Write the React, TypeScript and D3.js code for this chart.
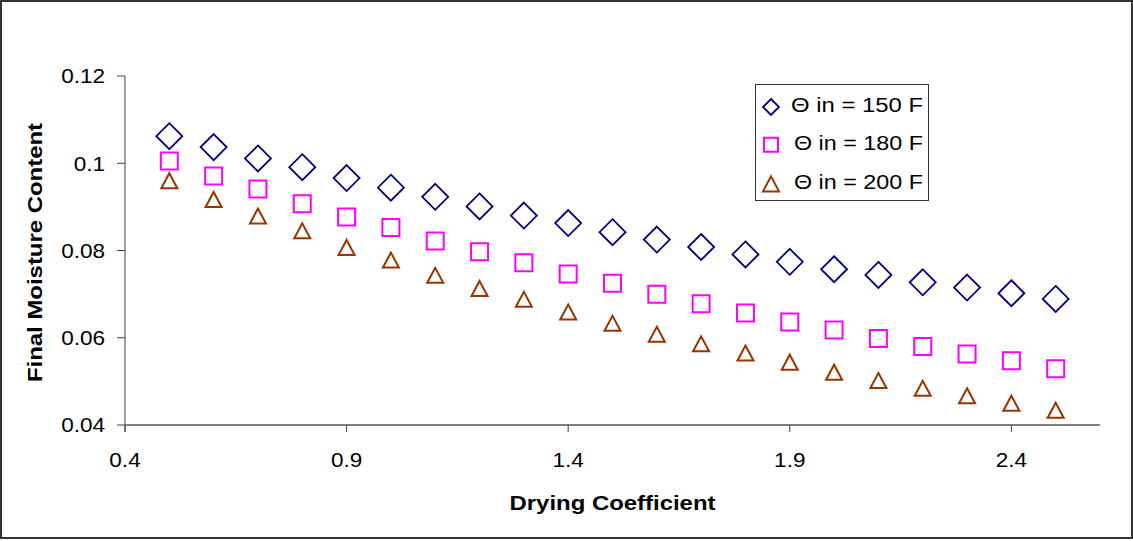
import React from "react";
import * as d3 from "d3";

const dryingCoeff = [0.5, 0.6, 0.7, 0.8, 0.9, 1.0, 1.1, 1.2, 1.3, 1.4, 1.5, 1.6, 1.7, 1.8, 1.9, 2.0, 2.1, 2.2, 2.3, 2.4, 2.5];
const moisture150 = [0.1062, 0.1037, 0.1011, 0.0991, 0.0966, 0.0944, 0.0923, 0.0901, 0.088, 0.0863, 0.0842, 0.0825, 0.0808, 0.0791, 0.0774, 0.0757, 0.0744, 0.0727, 0.0715, 0.0702, 0.0689];
const moisture180 = [0.1005, 0.0971, 0.0941, 0.0907, 0.0877, 0.0853, 0.0822, 0.0797, 0.0772, 0.0746, 0.0725, 0.07, 0.0678, 0.0657, 0.0636, 0.0618, 0.0598, 0.058, 0.0563, 0.0547, 0.0529];
const moisture200 = [0.096, 0.0917, 0.0879, 0.0845, 0.0807, 0.0778, 0.0743, 0.0713, 0.0688, 0.0659, 0.0633, 0.0608, 0.0586, 0.0565, 0.0544, 0.0521, 0.0502, 0.0484, 0.0467, 0.045, 0.0434];
const seriesNames = ["\u0398 in = 150 F", "\u0398 in = 180 F", "\u0398 in = 200 F"];
const xTicks = [0.4, 0.9, 1.4, 1.9, 2.4];
const yTicks = [0.04, 0.06, 0.08, 0.1, 0.12];
const xTickLabels = ["0.4", "0.9", "1.4", "1.9", "2.4"];
const yTickLabels = ["0.04", "0.06", "0.08", "0.1", "0.12"];

const W = 1133;
const H = 541;
const FONT = "'Liberation Sans', Arial, Helvetica, sans-serif";

const diamond = (h: number) => `M0,${-h}L${h},0L0,${h}L${-h},0Z`;
const square = (h: number) => `M${-h},${-h}H${h}V${h}H${-h}Z`;
const triangle = (w: number, h: number) => `M0,${-h / 2}L${w / 2},${h / 2}L${-w / 2},${h / 2}Z`;

export default function App() {
  const x = d3.scaleLinear().domain([0.4, 2.6]).range([125, 1100]);
  const y = d3.scaleLinear().domain([0.04, 0.12]).range([425, 76]);

  const series = [
    { name: seriesNames[0], values: moisture150, color: "#000080", path: diamond(13), legendPath: diamond(8), sw: 1.8, legendDy: 2.5 },
    { name: seriesNames[1], values: moisture180, color: "#FF00FF", path: square(8.5), legendPath: square(7), sw: 2, legendDy: 1.5 },
    { name: seriesNames[2], values: moisture200, color: "#993300", path: triangle(16, 15), legendPath: triangle(16, 15), sw: 2, legendDy: 2 },
  ];

  const x0 = x.range()[0];
  const x1 = x.range()[1];
  const yTop = y.range()[1];
  const yBot = y.range()[0];

  return (
    <svg width={W} height={H} style={{ position: "absolute", left: 0, top: 0, background: "#fff" }} fontFamily={FONT}>
      <rect x={0} y={0} width={W} height={H} fill="#fff" />
      <rect x={1} y={1} width={1131} height={537} fill="none" stroke="#333" strokeWidth={2} />

      {/* y axis */}
      <line x1={x0} x2={x0} y1={yTop} y2={yBot + 7} stroke="#404040" strokeWidth={1} />
      {yTicks.map((t, i) => (
        <g key={"yt" + i}>
          <line x1={x0 - 8} x2={x0} y1={y(t)} y2={y(t)} stroke="#404040" strokeWidth={1} />
          <text
            transform={`translate(${x0 - 20},${y(t) + 7.3}) scale(1.1,1)`}
            textAnchor="end"
            fontSize={20.5}
            fill="#000"
          >
            {yTickLabels[i]}
          </text>
        </g>
      ))}

      {/* x axis */}
      <line x1={x0} x2={x1} y1={yBot} y2={yBot} stroke="#808080" strokeWidth={2} />
      {xTicks.map((t, i) => (
        <g key={"xt" + i}>
          <line x1={x(t)} x2={x(t)} y1={yBot} y2={yBot + 7} stroke="#404040" strokeWidth={1} />
          <text
            transform={`translate(${x(t)},${466.7}) scale(1.1,1)`}
            textAnchor="middle"
            fontSize={20.5}
            fill="#000"
          >
            {xTickLabels[i]}
          </text>
        </g>
      ))}

      {/* axis titles */}
      <text
        transform={`translate(${(x0 + x1) / 2},510) scale(1.14,1)`}
        textAnchor="middle"
        fontSize={21}
        fontWeight="bold"
        fill="#000"
      >
        Drying Coefficient
      </text>
      <text
        transform={`translate(42,${(yTop + yBot) / 2 + 2}) rotate(-90) scale(1.14,1)`}
        textAnchor="middle"
        fontSize={21}
        fontWeight="bold"
        fill="#000"
      >
        Final Moisture Content
      </text>

      {/* markers */}
      {series.map((s, si) => (
        <g key={"s" + si}>
          {s.values.map((v, i) => (
            <path
              key={i}
              d={s.path}
              transform={`translate(${x(dryingCoeff[i])},${y(v)})`}
              fill="none"
              stroke={s.color}
              strokeWidth={s.sw}
            />
          ))}
        </g>
      ))}

      {/* legend */}
      <rect x={755.5} y={84.5} width={173} height={116} fill="#fff" stroke="#333" strokeWidth={1} />
      {series.map((s, si) => {
        const base = 111.7 + si * 38.7;
        return (
          <g key={"lg" + si}>
            <path
              d={s.legendPath}
              transform={`translate(771,${base - 7.2 + s.legendDy})`}
              fill="none"
              stroke={s.color}
              strokeWidth={s.sw}
            />
            <text
              x={si === 0 ? 791 : 794}
              y={base}
              fontSize={20}
              fill="#000"
              textLength={si === 0 ? 132 : 129}
              lengthAdjust="spacingAndGlyphs"
            >
              {s.name}
            </text>
          </g>
        );
      })}
    </svg>
  );
}
